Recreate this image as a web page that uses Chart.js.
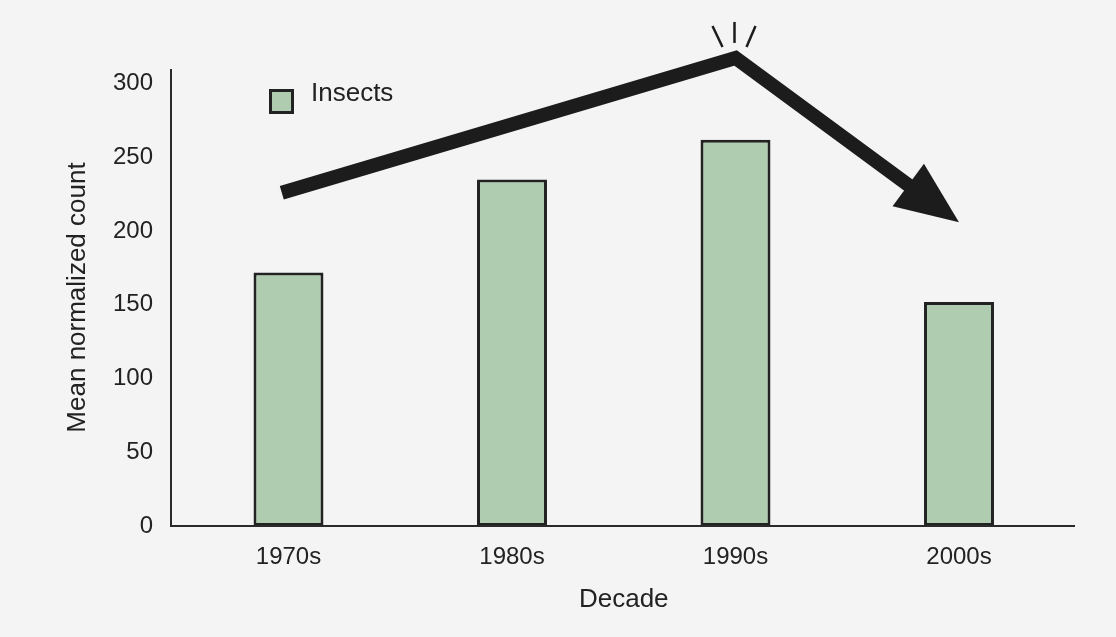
<!DOCTYPE html>
<html>
<head>
<meta charset="utf-8">
<script src="https://cdn.jsdelivr.net/npm/chart.js@4.4.1/dist/chart.umd.min.js"></script>
<style>
  html, body { margin: 0; padding: 0; background: #f4f4f4; }
  canvas { display: block; }
</style>
</head>
<body>
<canvas id="c" width="1116" height="637"></canvas>
<script>
// ---- data ----
const decades = ['1970s', '1980s', '1990s', '2000s'];
const insectCounts = [172, 235, 262, 152];
const yTicks = [0, 50, 100, 150, 200, 250, 300];
const seriesLabel = 'Insects';
// trend arrow path in data space: (category index, count)
const trendPath = [
  { x: -0.03, y: 226 },
  { x: 2, y: 317.5 },
  { x: 3, y: 206 }
];

// ---- styling ----
const FONT = '"Liberation Sans", Arial, Helvetica, sans-serif';
const INK = '#1c1c1c';
const TEXT = '#222222';
const BG = '#f4f4f4';

const backdrop = {
  id: 'backdrop',
  beforeDraw(chart) {
    const c = chart.ctx;
    c.save();
    c.fillStyle = BG;
    c.fillRect(0, 0, chart.width, chart.height);
    c.restore();
  }
};

// axis lines slightly overhanging the plotting area
const axesLines = {
  id: 'axesLines',
  afterDatasetsDraw(chart) {
    const { ctx, chartArea: a } = chart;
    ctx.save();
    ctx.strokeStyle = '#2a2a2a';
    ctx.lineWidth = 2;
    ctx.beginPath();
    ctx.moveTo(a.left - 5.75, a.top);
    ctx.lineTo(a.left - 5.75, a.bottom);
    ctx.lineTo(a.right + 4.25, a.bottom);
    ctx.stroke();
    ctx.restore();
  }
};

// legend drawn inside the plot
const legendBox = {
  id: 'legendBox',
  afterDatasetsDraw(chart) {
    const { ctx, chartArea: a } = chart;
    const ds = chart.data.datasets[0];
    const bx = a.left + 93.75, by = a.top + 21.5;
    ctx.save();
    ctx.fillStyle = ds.backgroundColor;
    ctx.strokeStyle = ds.borderColor;
    ctx.lineWidth = 3;
    ctx.fillRect(bx, by, 22, 22);
    ctx.strokeRect(bx, by, 22, 22);
    ctx.font = '26px ' + FONT;
    ctx.fillStyle = TEXT;
    ctx.textBaseline = 'alphabetic';
    ctx.textAlign = 'left';
    ctx.fillText(ds.label, a.left + 134.25, a.top + 32);
    ctx.restore();
  }
};

// rising-then-falling trend arrow with a small burst at the peak
const trendArrow = {
  id: 'trendArrow',
  afterDraw(chart) {
    const { ctx } = chart;
    const xs = chart.scales.x, ys = chart.scales.y;
    const pts = trendPath.map(p => ({ x: xs.getPixelForValue(p.x), y: ys.getPixelForValue(p.y) }));
    const tip = pts[pts.length - 1];
    const prev = pts[pts.length - 2];
    const dx = tip.x - prev.x, dy = tip.y - prev.y;
    const len = Math.hypot(dx, dy);
    const ux = dx / len, uy = dy / len;
    const headLen = 63, headHalf = 26.5;
    const base = { x: tip.x - ux * headLen, y: tip.y - uy * headLen };

    ctx.save();
    ctx.strokeStyle = INK;
    ctx.fillStyle = INK;
    ctx.lineWidth = 14;
    ctx.lineJoin = 'miter';
    ctx.miterLimit = 10;
    ctx.lineCap = 'butt';
    ctx.beginPath();
    ctx.moveTo(pts[0].x, pts[0].y);
    for (let i = 1; i < pts.length - 1; i++) ctx.lineTo(pts[i].x, pts[i].y);
    ctx.lineTo(base.x + ux * 4, base.y + uy * 4);
    ctx.stroke();

    ctx.beginPath();
    ctx.moveTo(tip.x, tip.y);
    ctx.lineTo(base.x - uy * headHalf, base.y + ux * headHalf);
    ctx.lineTo(base.x + uy * headHalf, base.y - ux * headHalf);
    ctx.closePath();
    ctx.fill();

    // burst strokes above the peak
    const pk = pts[1];
    const rays = [
      [-23, -32, -13, -11],
      [-1, -36, -1, -15],
      [20, -32, 11, -11]
    ];
    ctx.lineWidth = 2.5;
    ctx.lineCap = 'butt';
    rays.forEach(r => {
      ctx.beginPath();
      ctx.moveTo(pk.x + r[0], pk.y + r[1]);
      ctx.lineTo(pk.x + r[2], pk.y + r[3]);
      ctx.stroke();
    });
    ctx.restore();
  }
};

new Chart(document.getElementById('c'), {
  type: 'bar',
  data: {
    labels: decades,
    datasets: [{
      label: seriesLabel,
      data: insectCounts,
      backgroundColor: '#afcbb0',
      borderColor: '#222222',
      borderWidth: 3,
      borderSkipped: false,
      categoryPercentage: 1,
      barPercentage: 0.313
    }]
  },
  options: {
    responsive: false,
    animation: false,
    devicePixelRatio: 1,
    layout: { padding: { left: 58, right: 45.25, top: 69, bottom: 18 } },
    plugins: { legend: { display: false }, tooltip: { enabled: false } },
    scales: {
      x: {
        grid: { display: false, drawTicks: false },
        border: { display: false },
        ticks: { color: TEXT, font: { family: FONT, size: 24 }, padding: 17 },
        title: { display: true, text: 'Decade', color: TEXT, font: { family: FONT, size: 26 }, padding: 4 },
        afterFit(s) { s.height = 93; }
      },
      y: {
        min: 0,
        max: 310,
        grid: { display: false, drawTicks: false },
        border: { display: false },
        ticks: { color: TEXT, font: { family: FONT, size: 24 }, padding: 23.75 },
        afterBuildTicks(s) { s.ticks = yTicks.map(v => ({ value: v })); },
        title: { display: true, text: 'Mean normalized count', color: TEXT, font: { family: FONT, size: 26 }, padding: 4 },
        afterFit(s) { s.width = 118.75; }
      }
    }
  },
  plugins: [backdrop, axesLines, legendBox, trendArrow]
});
</script>
</body>
</html>
